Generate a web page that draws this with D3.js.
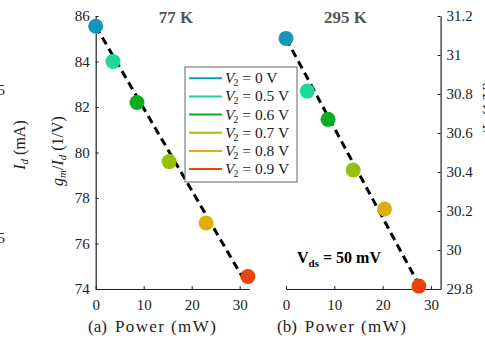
<!DOCTYPE html>
<html>
<head>
<meta charset="utf-8">
<script src="https://cdn.jsdelivr.net/npm/d3@7"></script>
<style>
  body { margin: 0; background: #fff; }
  svg { display: block; }
  text { font-family: "Liberation Serif", "Times New Roman", serif; fill: #222; }
</style>
</head>
<body>
<svg id="chart" width="485" height="347"></svg>
<script>
// values
var biasLabels = ['0', '0.5', '0.6', '0.7', '0.8', '0.9'];
var biasColours = ['#1396b8', '#1fd894', '#0aad1e', '#97bf0c', '#e0ad0b', '#ea430c'];

// (a) 77 K
var powerA = [0, 3.6, 8.6, 15.3, 23.0, 31.7];
var gmIdA  = [85.55, 84.0, 82.2, 79.6, 76.9, 74.55];
var fitPowerA = [0, 31.3];
var fitGmIdA  = [85.55, 74.26];

// (b) 295 K
var powerB = [0, 4.4, 8.7, 13.9, 20.4, 27.5];
var gmIdB  = [31.085, 30.815, 30.67, 30.41, 30.21, 29.815];
var fitPowerB = [0, 27.1];
var fitGmIdB  = [31.085, 29.84];

var ticksYA = [74, 76, 78, 80, 82, 84, 86];
var ticksYB = [29.8, 30, 30.2, 30.4, 30.6, 30.8, 31, 31.2];
var ticksX  = [0, 10, 20, 30];

var svg = d3.select('#chart');

var xA = d3.scaleLinear().domain([0, 32]).range([95.7, 249.3]);
var yA = d3.scaleLinear().domain([74, 86]).range([289, 16]);
var xB = d3.scaleLinear().domain([0, 32]).range([286, 440.6]);
var yB = d3.scaleLinear().domain([29.8, 31.2]).range([289, 16]);

var fmt = d3.format('~g');

function styleAxis(g) {
  g.attr('font-family', null);
  g.select('.domain').attr('stroke', '#222').attr('stroke-width', 1.2);
  g.selectAll('.tick line').attr('stroke', '#222');
  g.selectAll('.tick text').style('font-size', '15px').style('fill', '#222')
    .style('font-family', '"Liberation Serif", serif');
}

// axes of panel (a)
svg.append('g').attr('transform', 'translate(' + xA(0) + ',0)')
  .call(d3.axisLeft(yA).tickValues(ticksYA).tickFormat(fmt).tickSizeInner(-3).tickSizeOuter(0).tickPadding(6))
  .call(styleAxis);
svg.append('g').attr('transform', 'translate(0,' + yA(74) + ')')
  .call(d3.axisBottom(xA).tickValues(ticksX).tickFormat(fmt).tickSizeInner(-3).tickSizeOuter(0).tickPadding(10))
  .call(styleAxis);

// axes of panel (b)
svg.append('g').attr('transform', 'translate(' + xB(32) + ',0)')
  .call(d3.axisRight(yB).tickValues(ticksYB).tickFormat(fmt).tickSizeInner(-3).tickSizeOuter(0).tickPadding(6))
  .call(styleAxis);
svg.append('g').attr('transform', 'translate(0,' + yB(29.8) + ')')
  .call(d3.axisBottom(xB).tickValues(ticksX).tickFormat(fmt).tickSizeInner(-3).tickSizeOuter(0).tickPadding(10))
  .call(styleAxis);

// dashed fits
var lineA = d3.line().x(function(d){ return xA(d[0]); }).y(function(d){ return yA(d[1]); });
var lineB = d3.line().x(function(d){ return xB(d[0]); }).y(function(d){ return yB(d[1]); });
svg.append('path').attr('d', lineA(d3.zip(fitPowerA, fitGmIdA)))
  .attr('fill', 'none').attr('stroke', '#000').attr('stroke-width', 3).attr('stroke-dasharray', '8,5');
svg.append('path').attr('d', lineB(d3.zip(fitPowerB, fitGmIdB)))
  .attr('fill', 'none').attr('stroke', '#000').attr('stroke-width', 3).attr('stroke-dasharray', '8,5');

// markers
svg.append('g').selectAll('circle').data(d3.range(powerA.length)).enter().append('circle')
  .attr('cx', function(i){ return xA(powerA[i]); })
  .attr('cy', function(i){ return yA(gmIdA[i]); })
  .attr('r', 7.5)
  .attr('fill', function(i){ return biasColours[i]; });
svg.append('g').selectAll('circle').data(d3.range(powerB.length)).enter().append('circle')
  .attr('cx', function(i){ return xB(powerB[i]); })
  .attr('cy', function(i){ return yB(gmIdB[i]); })
  .attr('r', 7.5)
  .attr('fill', function(i){ return biasColours[i]; });

// titles
svg.append('text').attr('x', 176).attr('y', 23).attr('text-anchor', 'middle')
  .attr('font-size', 17).attr('font-weight', 'bold').style('fill', '#555').text('77 K');
svg.append('text').attr('x', 345.5).attr('y', 23).attr('text-anchor', 'middle')
  .attr('font-size', 17).attr('font-weight', 'bold').style('fill', '#555').text('295 K');

// Vds note
var vds = svg.append('text').attr('x', 297).attr('y', 263).attr('font-size', 16)
  .attr('font-weight', 'bold').style('fill', '#000');
vds.append('tspan').text('V');
vds.append('tspan').attr('font-size', 11).attr('dy', 4).text('ds');
vds.append('tspan').attr('dy', -4).text(' = 50 mV');

// x labels
function xLabel(x, tag) {
  var t = svg.append('text').attr('x', x).attr('y', 332).attr('font-size', 17);
  t.append('tspan').text(tag);
  t.append('tspan').attr('dx', 8).attr('textLength', 101).attr('lengthAdjust', 'spacing').text('Power (mW)');
}
xLabel(88, '(a)');
xLabel(277, '(b)');

// y labels
function gmLabel(x, y) {
  var t = svg.append('text').attr('transform', 'translate(' + x + ',' + y + ') rotate(-90)')
    .attr('text-anchor', 'middle').attr('font-size', 16);
  t.append('tspan').attr('font-style', 'italic').text('g');
  t.append('tspan').attr('font-style', 'italic').attr('font-size', 11).attr('dy', 3).text('m');
  t.append('tspan').attr('dy', -3).text('/');
  t.append('tspan').attr('font-style', 'italic').text('I');
  t.append('tspan').attr('font-style', 'italic').attr('font-size', 11).attr('dy', 3).text('d');
  t.append('tspan').attr('dy', -3).text(' (1/V)');
}
gmLabel(63, 151);
gmLabel(494, 116);

var idl = svg.append('text').attr('transform', 'translate(25,145) rotate(-90)')
  .attr('text-anchor', 'middle').attr('font-size', 16);
idl.append('tspan').attr('font-style', 'italic').text('I');
idl.append('tspan').attr('font-style', 'italic').attr('font-size', 11).attr('dy', 3).text('d');
idl.append('tspan').attr('dy', -3).text(' (mA)');

// cut tick labels of the neighbouring panel
svg.append('text').attr('x', 5).attr('y', 95).attr('text-anchor', 'end').attr('font-size', 15).text('5');
svg.append('text').attr('x', 5).attr('y', 243).attr('text-anchor', 'end').attr('font-size', 15).text('5');

// legend
var leg = svg.append('g');
leg.append('rect').attr('x', 185).attr('y', 67).attr('width', 112).attr('height', 115)
  .attr('fill', '#fff').attr('stroke', '#666').attr('stroke-width', 1);
var rows = leg.selectAll('g.row').data(d3.range(biasLabels.length)).enter().append('g')
  .attr('transform', function(i){ return 'translate(0,' + (78.3 + i * 18.15) + ')'; });
rows.append('line').attr('x1', 189).attr('x2', 222).attr('y1', 0).attr('y2', 0)
  .attr('stroke', function(i){ return biasColours[i]; }).attr('stroke-width', 2);
var lt = rows.append('text').attr('x', 225).attr('y', 5).attr('font-size', 15.5);
lt.append('tspan').attr('font-style', 'italic').text('V');
lt.append('tspan').attr('font-size', 10).attr('dy', 3).attr('dx', -1).text('2');
lt.append('tspan').attr('dy', -3).text(function(i){ return ' = ' + biasLabels[i] + ' V'; });
</script>
</body>
</html>
